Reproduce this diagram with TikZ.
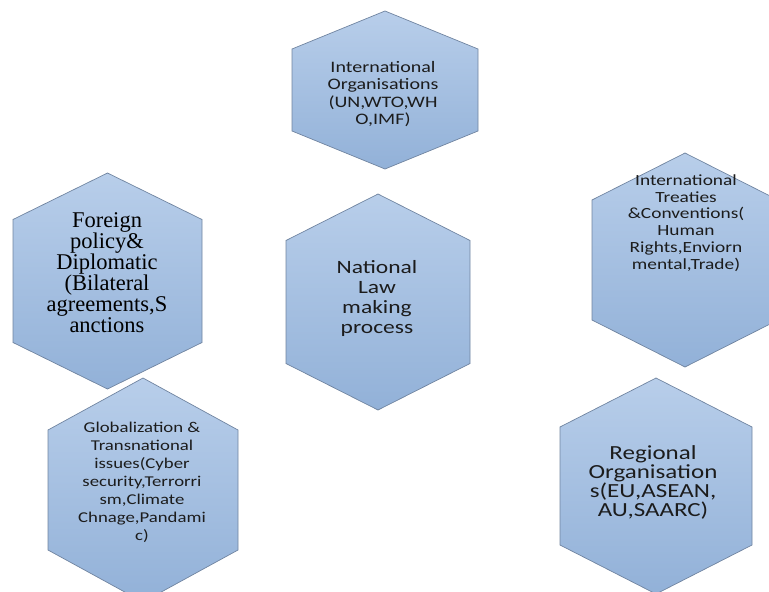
\documentclass[tikz,border=0pt]{standalone}
\usepackage{fontspec}
\setmainfont{Carlito}[FakeStretch=1.25]
\newfontfamily\serifface{Liberation Serif}
\definecolor{hexedge}{RGB}{112,132,160}
\definecolor{hextop}{RGB}{184,206,234}
\definecolor{hexbottom}{RGB}{146,177,216}
\definecolor{textgray}{RGB}{28,28,28}
\lineskiplimit=-50pt

\begin{document}
\begin{tikzpicture}
    [x=1pt,y=-1pt,
     hex/.style={draw=hexedge,line width=0.7pt,top color=hextop,bottom color=hexbottom},
     hextext/.style={align=center,text=textgray,inner sep=0pt}]

    \clip (0,0) rectangle (769,592);

    % centre x / centre y / half width / tip / half side
    \foreach \cx/\cy/\hw/\r/\s in {385/90/93/79/41, 107.5/281/94.5/108/61.5,
        378/302/92/108/61.5, 685/260/93/107/60, 143/490/95/112/60, 656/486/96/108/59}
      \draw[hex] (\cx,{\cy-\r}) -- ({\cx+\hw},{\cy-\s}) -- ({\cx+\hw},{\cy+\s})
        -- (\cx,{\cy+\r}) -- ({\cx-\hw},{\cy+\s}) -- ({\cx-\hw},{\cy-\s}) -- cycle;

    \node[hextext,font=\fontsize{16}{17.5}\selectfont] (intorgs) at (383,94)
      {International\\Organisations\\(UN,WTO,WH\\O,IMF)};

    \node[hextext,text=black,font=\serifface\fontsize{22.5}{21}\selectfont] (foreign) at (107,273)
      {Foreign\\policy\&\\Diplomatic\\(Bilateral\\agreements,S\\anctions};

    \node[hextext,font=\fontsize{18.8}{20}\selectfont] (national) at (377,298)
      {National\\Law\\making\\process};

    \node[hextext,font=\fontsize{15.5}{16.7}\selectfont] (treaties) at (686,223)
      {International\\Treaties\\\&Conventions(\\Human\\Rights,Enviorn\\mental,Trade)};

    \node[hextext,font=\fontsize{15}{18}\selectfont] (global) at (142,482)
      {Globalization \&\\Transnational\\issues(Cyber\\security,Terrorri\\sm,Climate\\Chnage,Pandami\\c)};

    \node[hextext,font=\fontsize{20}{19}\selectfont] (regional) at (653,482)
      {Regional\\Organisation\\s(EU,ASEAN,\\AU,SAARC)};
\end{tikzpicture}
\end{document}
